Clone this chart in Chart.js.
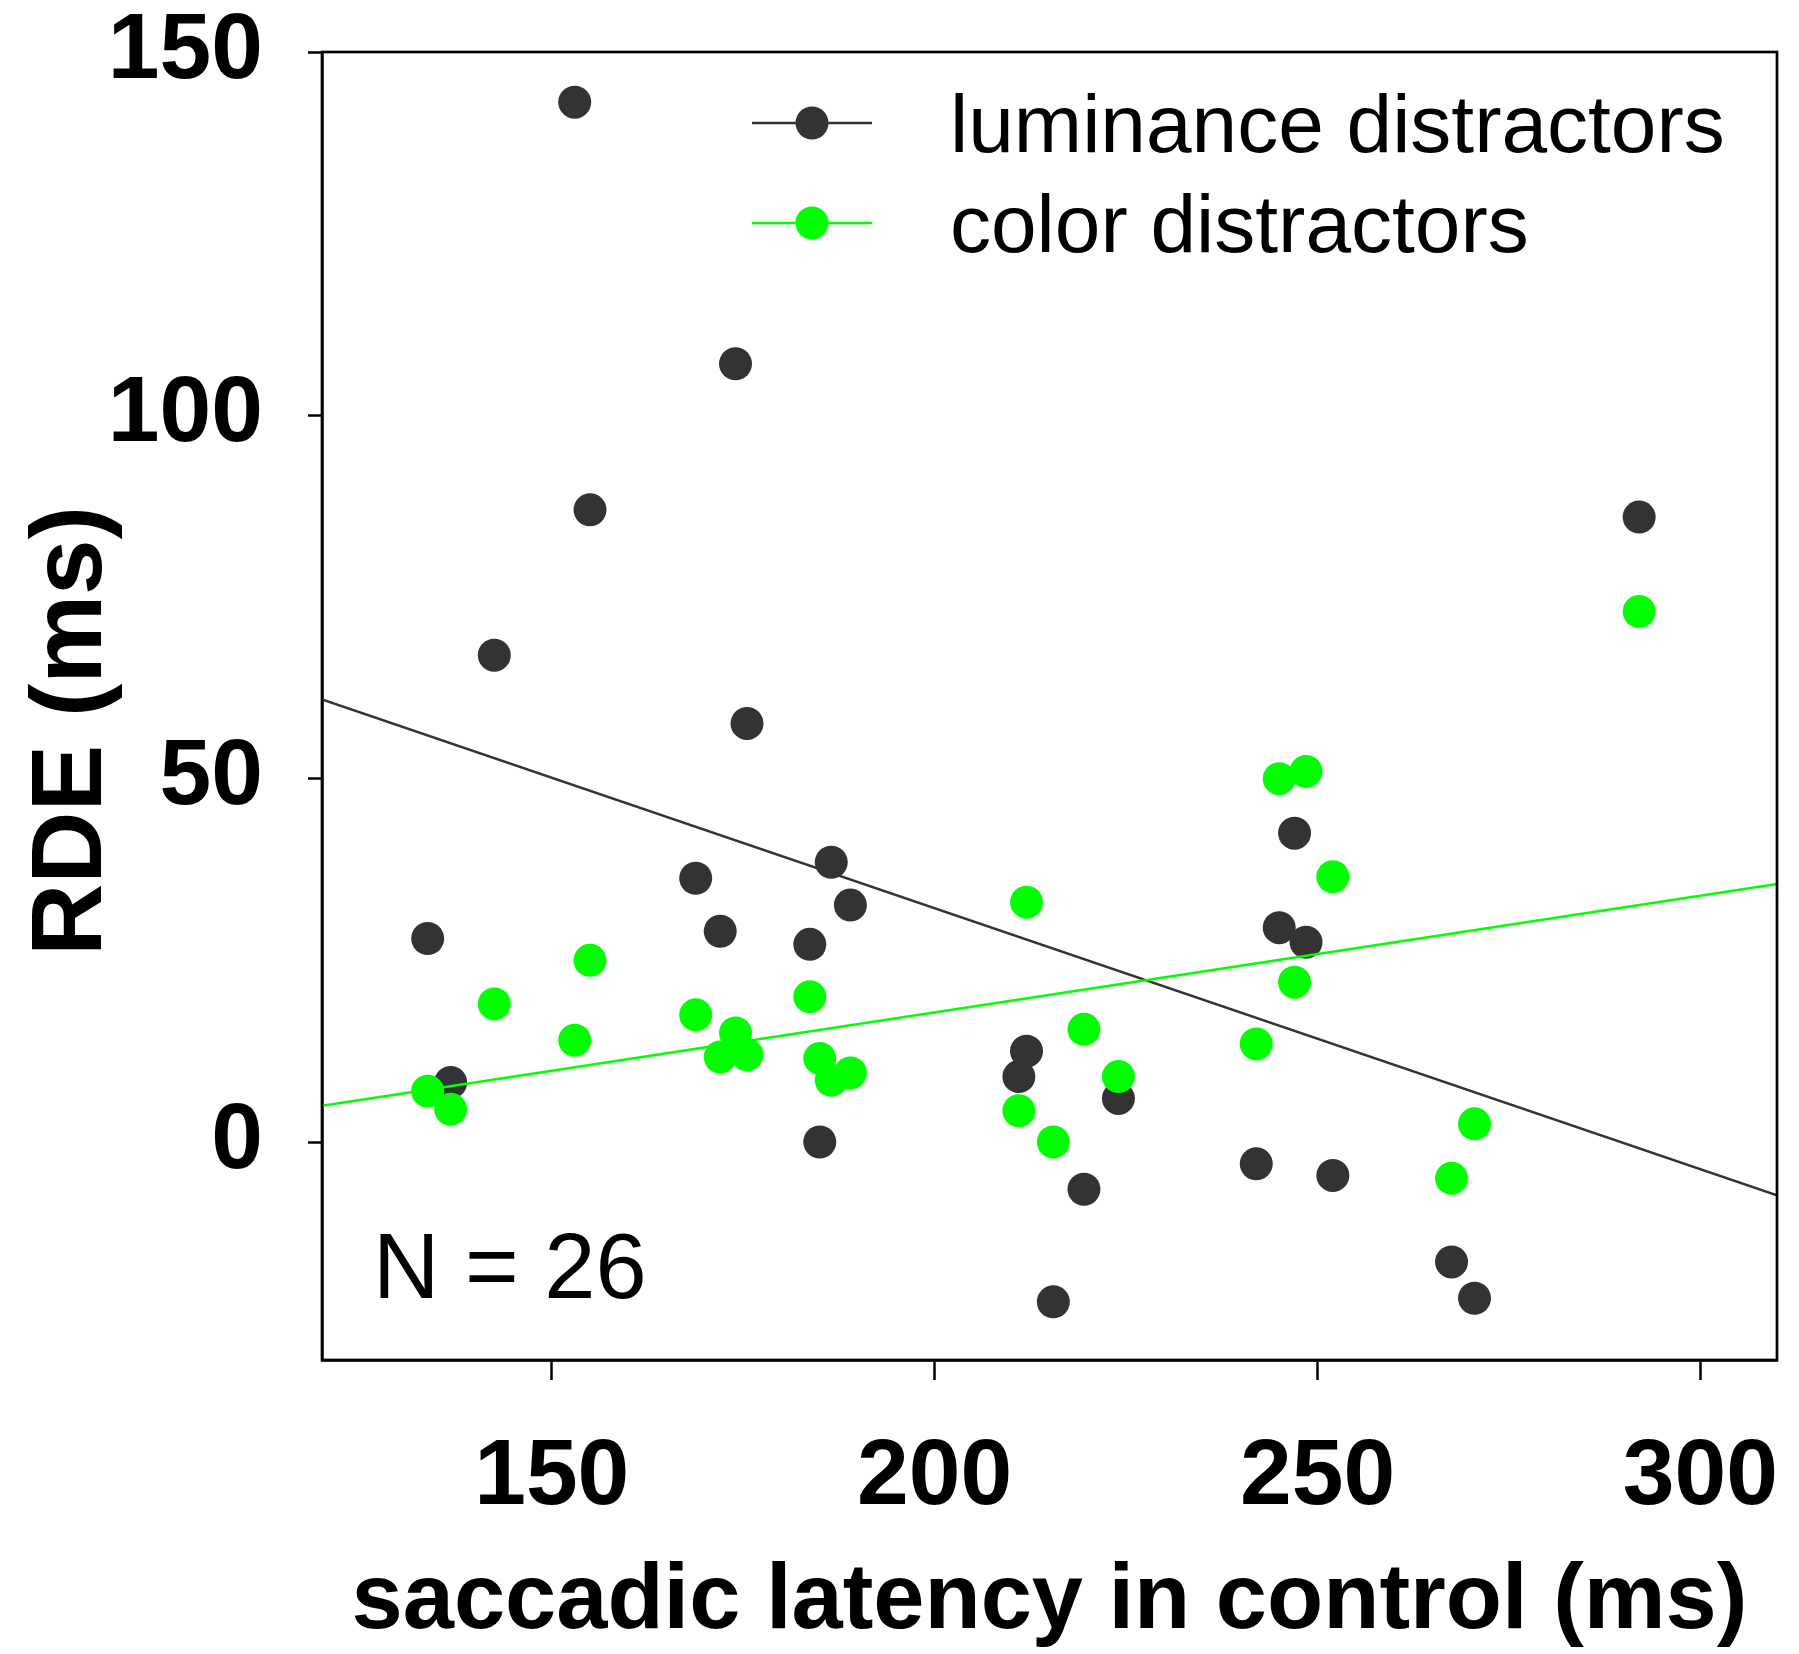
<!DOCTYPE html>
<html>
<head>
<meta charset="utf-8">
<title>RDE vs saccadic latency</title>
<script src="https://cdn.jsdelivr.net/npm/chart.js@4.4.1/dist/chart.umd.min.js"></script>
<style>
    html, body { margin: 0; padding: 0; background: #ffffff; }
</style>
</head>
<body>
<canvas id="graficoRDE" width="1799" height="1654"></canvas>
<script>
// saccadic latency in control (ms), one value per subject
const latency = [133.8, 136.8, 142.5, 153.0, 155.0, 168.8, 172.0, 174.0, 175.5, 183.7, 185.0, 186.5, 189.0,
                 211.0, 212.0, 215.5, 219.5, 224.0, 242.0, 245.0, 247.0, 248.5, 252.0, 267.5, 270.5, 292.0];
// RDE (ms) per subject
const rdeLuminance = [28.0, 8.2, 67.0, 143.1, 87.0, 36.3, 29.0, 107.1, 57.6, 27.2, 0.0, 38.5, 32.6,
                      9.0, 12.5, -22.0, -6.5, 6.0, -3.0, 29.5, 42.5, 27.5, -4.6, -16.5, -21.5, 86.0];
const rdeColor = [7.0, 4.5, 19.0, 14.0, 25.0, 17.5, 11.7, 15.0, 12.0, 20.0, 11.5, 8.5, 9.5,
                  4.3, 33.0, 0.0, 15.5, 9.0, 13.5, 50.0, 22.0, 51.0, 36.5, -5.0, 2.5, 73.0];
// regression lines, read at the two ends of the x axis
const fitX = [120, 310];
const fitLuminance = [60.9, -7.35];
const fitColor = [5.0, 35.5];

const xTicks = [150, 200, 250, 300];
const yTicks = [0, 50, 100, 150];

const cinza = '#333333';
const verde = '#00ff00';
const fonte = "'Liberation Sans', Arial, Helvetica, sans-serif";

const pontos = (ys) => latency.map((x, i) => ({ x: x, y: ys[i] }));
const reta = (ys) => fitX.map((x, i) => ({ x: x, y: ys[i] }));

// the axes keep a fixed size, label overflow is not reserved
function fixarEixo(s, tamanho) {
    if (s.isHorizontal()) s.height = tamanho; else s.width = tamanho;
    s.paddingTop = 0;
    s.paddingBottom = 0;
    s.paddingLeft = 0;
    s.paddingRight = 0;
}

// frame, legend and N label
const extras = {
    id: 'extras',
    afterDraw(chart) {
        const c = chart.ctx;
        const area = chart.chartArea;
        c.save();
        c.strokeStyle = '#000';
        c.lineWidth = 2.7;
        c.strokeRect(area.left, area.top, area.right - area.left, area.bottom - area.top);

        const itens = [
            { label: 'luminance distractors', cor: cinza },
            { label: 'color distractors', cor: verde }
        ];
        c.font = '82px ' + fonte;
        c.textBaseline = 'alphabetic';
        c.textAlign = 'left';
        itens.forEach((item, i) => {
            const y = area.top + 71 + i * 100;
            const xm = area.left + 490;
            c.strokeStyle = item.cor;
            c.lineWidth = 2.5;
            c.beginPath();
            c.moveTo(xm - 60, y);
            c.lineTo(xm + 60, y);
            c.stroke();
            c.fillStyle = item.cor;
            c.beginPath();
            c.arc(xm, y, 16.5, 0, 2 * Math.PI);
            c.fill();
            c.fillStyle = '#000';
            c.fillText(item.label, area.left + 628, y + 29);
        });

        c.font = '92px ' + fonte;
        c.fillText('N = ' + latency.length, area.left + 51, area.bottom - 62);
        c.restore();
    }
};

const ctx = document.getElementById('graficoRDE').getContext('2d');

new Chart(ctx, {
    type: 'scatter',
    data: {
        datasets: [
            {
                label: 'color distractors',
                data: pontos(rdeColor),
                backgroundColor: verde,
                pointRadius: 16.5,
                pointHoverRadius: 16.5,
                pointBorderWidth: 0,
                order: 1
            },
            {
                label: 'color fit',
                data: reta(fitColor),
                showLine: true,
                borderColor: verde,
                borderWidth: 2.5,
                pointRadius: 0,
                order: 2
            },
            {
                label: 'luminance distractors',
                data: pontos(rdeLuminance),
                backgroundColor: cinza,
                pointRadius: 16.5,
                pointHoverRadius: 16.5,
                pointBorderWidth: 0,
                order: 3
            },
            {
                label: 'luminance fit',
                data: reta(fitLuminance),
                showLine: true,
                borderColor: cinza,
                borderWidth: 2.5,
                pointRadius: 0,
                order: 4
            }
        ]
    },
    options: {
        responsive: false,
        animation: false,
        layout: {
            padding: { top: 52, right: 22, bottom: 0, left: 0 }
        },
        plugins: {
            legend: { display: false },
            tooltip: { enabled: false }
        },
        scales: {
            x: {
                type: 'linear',
                min: 120,
                max: 310,
                afterBuildTicks: (s) => { s.ticks = xTicks.map(v => ({ value: v })); },
                afterFit: (s) => fixarEixo(s, 294),
                grid: {
                    drawOnChartArea: false,
                    tickLength: 20,
                    tickWidth: 2.5,
                    tickColor: '#000'
                },
                border: { color: '#000', width: 2.7 },
                ticks: {
                    color: '#000',
                    padding: 52,
                    maxRotation: 0,
                    font: { family: fonte, size: 93, weight: 'bold', lineHeight: 1.0 }
                },
                title: {
                    display: true,
                    text: 'saccadic latency in control (ms)',
                    color: '#000',
                    padding: { top: 0, bottom: 1 },
                    font: { family: fonte, size: 92, weight: 'bold', lineHeight: 1.1 }
                }
            },
            y: {
                type: 'linear',
                min: -30,
                max: 150,
                afterBuildTicks: (s) => { s.ticks = yTicks.map(v => ({ value: v })); },
                afterFit: (s) => fixarEixo(s, 322),
                grid: {
                    drawOnChartArea: false,
                    tickLength: 14,
                    tickWidth: 2.5,
                    tickColor: '#000'
                },
                border: { color: '#000', width: 2.7 },
                ticks: {
                    color: '#000',
                    padding: 45,
                    font: { family: fonte, size: 93, weight: 'bold', lineHeight: 1.0 }
                },
                title: {
                    display: true,
                    text: 'RDE (ms)\u2002',
                    color: '#000',
                    padding: { top: 13, bottom: 0 },
                    font: { family: fonte, size: 100, weight: 'bold', lineHeight: 1.2 }
                }
            }
        }
    },
    plugins: [extras]
});
</script>
</body>
</html>
